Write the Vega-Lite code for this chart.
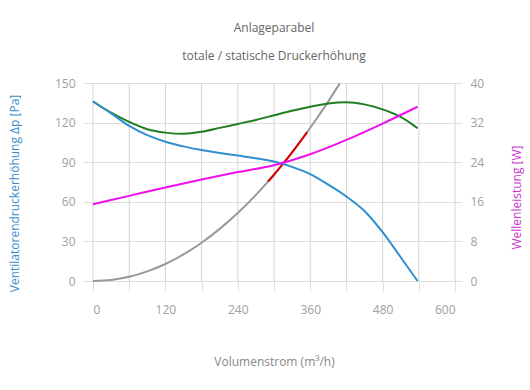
{
  "$schema": "https://vega.github.io/schema/vega-lite/v6.json",
  "width": 362,
  "height": 198,
  "padding": {"left": 8, "top": 22, "right": 2, "bottom": 5},
  "config": {
    "font": "Open Sans",
    "view": {"stroke": null},
    "axis": {
      "gridColor": "#dedede",
      "tickColor": "#dedede",
      "domain": false,
      "labelColor": "#a0a0a0",
      "labelFontSize": 12,
      "titleFontSize": 12,
      "titleFontWeight": "normal"
    }
  },
  "title": {
    "text": "Anlageparabel",
    "subtitle": "totale / statische Druckerhöhung",
    "fontSize": 12,
    "fontWeight": "normal",
    "color": "#666666",
    "subtitleFontSize": 12,
    "subtitleColor": "#666666",
    "subtitlePadding": 16,
    "offset": 14,
    "anchor": "middle"
  },
  "datasets": {
    "gitter": [
      {"q": 0}, {"q": 60}, {"q": 120}, {"q": 180}, {"q": 240}, {"q": 300},
      {"q": 360}, {"q": 420}, {"q": 480}, {"q": 540}, {"q": 600}
    ],
    "statisch": [
      {"q": 0, "p": 136}, {"q": 30, "p": 127}, {"q": 60, "p": 117.5}, {"q": 90, "p": 110.5},
      {"q": 120, "p": 105.5}, {"q": 150, "p": 102}, {"q": 180, "p": 99.2}, {"q": 210, "p": 97},
      {"q": 240, "p": 95}, {"q": 270, "p": 93}, {"q": 300, "p": 90.5}, {"q": 330, "p": 86.5},
      {"q": 360, "p": 81}, {"q": 390, "p": 73}, {"q": 420, "p": 64}, {"q": 450, "p": 53},
      {"q": 480, "p": 37}, {"q": 510, "p": 18}, {"q": 538, "p": 0}
    ],
    "total": [
      {"q": 0, "p": 136}, {"q": 30, "p": 127.5}, {"q": 60, "p": 120.5}, {"q": 90, "p": 115},
      {"q": 120, "p": 112.4}, {"q": 150, "p": 111.5}, {"q": 180, "p": 113}, {"q": 210, "p": 116},
      {"q": 240, "p": 119}, {"q": 270, "p": 122}, {"q": 300, "p": 125.5}, {"q": 330, "p": 129},
      {"q": 360, "p": 132}, {"q": 390, "p": 134.5}, {"q": 420, "p": 135.4}, {"q": 450, "p": 133.8},
      {"q": 480, "p": 130}, {"q": 510, "p": 124.3}, {"q": 538, "p": 115.7}
    ],
    "anlage": [
      {"q": 0, "p": 0}, {"q": 30, "p": 0.8}, {"q": 60, "p": 3.2}, {"q": 90, "p": 7.3},
      {"q": 120, "p": 12.9}, {"q": 150, "p": 20.1}, {"q": 180, "p": 29}, {"q": 210, "p": 39.5},
      {"q": 240, "p": 51.5}, {"q": 270, "p": 65.2}, {"q": 290, "p": 75.3}, {"q": 300, "p": 80.5},
      {"q": 330, "p": 97.5}, {"q": 355, "p": 112.8}, {"q": 370, "p": 122.5}, {"q": 390, "p": 136.1},
      {"q": 409, "p": 149.7}
    ],
    "betrieb": [
      {"q": 290, "p": 75.3}, {"q": 300, "p": 80.5}, {"q": 313, "p": 87.7}, {"q": 330, "p": 97.5},
      {"q": 340, "p": 103.5}, {"q": 355, "p": 112.8}
    ],
    "leistung": [
      {"q": 0, "p": 15.5}, {"q": 60, "p": 17.2}, {"q": 120, "p": 18.9}, {"q": 180, "p": 20.5},
      {"q": 240, "p": 22}, {"q": 300, "p": 23.4}, {"q": 360, "p": 25.6}, {"q": 420, "p": 28.5},
      {"q": 480, "p": 31.8}, {"q": 538, "p": 35.2}
    ]
  },
  "encoding": {
    "x": {
      "field": "q", "type": "quantitative",
      "scale": {"domain": [0, 600], "nice": false},
      "axis": {
        "title": "Volumenstrom (m³/h)",
        "titleColor": "#888888",
        "grid": false,
        "values": [0, 60, 120, 180, 240, 300, 360, 420, 480, 540, 600],
        "labelExpr": "datum.value % 120 == 0 ? datum.label : ''",
        "tickSize": 10,
        "labelPadding": 13,
        "titlePadding": 41
      }
    }
  },
  "layer": [
    {
      "encoding": {
        "y": {
          "field": "p", "type": "quantitative",
          "scale": {"domain": [0, 150], "nice": false},
          "axis": {
            "title": "Ventilatorendruckerhöhung Δp [Pa]",
            "titleColor": "#3a8fcc",
            "values": [0, 30, 60, 90, 120, 150],
            "tickSize": 10,
            "labelPadding": 8,
            "titlePadding": 33,
            "titleY": 110
          }
        }
      },
      "layer": [
        {"data": {"name": "gitter"}, "mark": {"type": "rule", "color": "#d4d4d4", "strokeWidth": 1}, "encoding": {"y": null}},
        {"data": {"name": "anlage"}, "mark": {"type": "line", "color": "#999999", "strokeWidth": 2, "interpolate": "monotone"}},
        {"data": {"name": "betrieb"}, "mark": {"type": "line", "color": "#dd0000", "strokeWidth": 2, "interpolate": "monotone"}},
        {"data": {"name": "total"}, "mark": {"type": "line", "color": "#1f7f1f", "strokeWidth": 2, "interpolate": "monotone"}},
        {"data": {"name": "statisch"}, "mark": {"type": "line", "color": "#2f8fd0", "strokeWidth": 2, "interpolate": "monotone"}}
      ]
    },
    {
      "data": {"name": "leistung"},
      "mark": {"type": "line", "color": "#ee11ee", "strokeWidth": 2, "interpolate": "monotone"},
      "encoding": {
        "y": {
          "field": "p", "type": "quantitative",
          "scale": {"domain": [0, 40], "nice": false},
          "axis": {
            "orient": "right",
            "title": "Wellenleistung [W]",
            "titleColor": "#cc33cc",
            "titleAngle": 270,
            "titleBaseline": "top",
            "values": [0, 8, 16, 24, 32, 40],
            "grid": false,
            "tickSize": 6,
            "labelPadding": 9,
            "titlePadding": 28,
            "titleY": 114
          }
        }
      }
    }
  ],
  "resolve": {"scale": {"y": "independent"}}
}
